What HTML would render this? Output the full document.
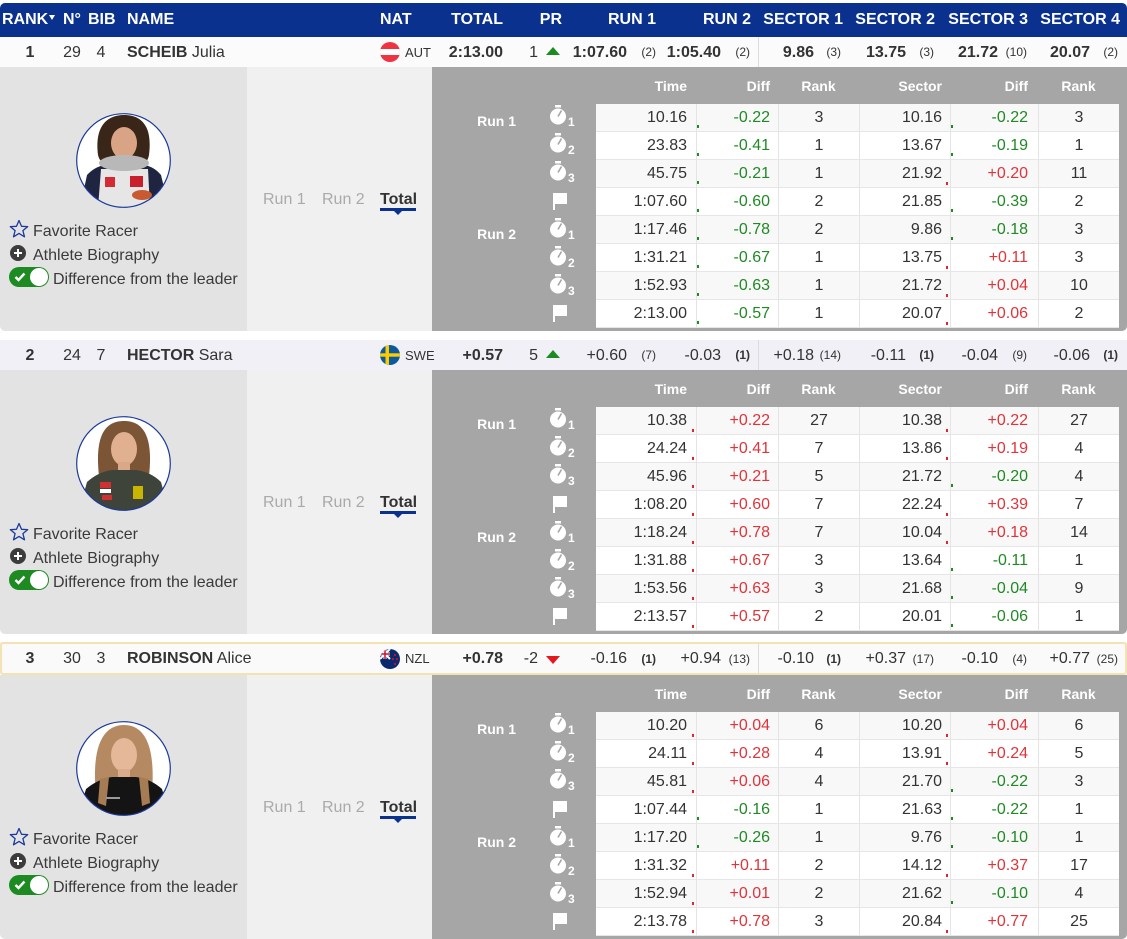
<!DOCTYPE html>
<html><head><meta charset="utf-8">
<style>
*{margin:0;padding:0;box-sizing:border-box}
body{width:1127px;height:936px;overflow:hidden;background:#fff;font-family:"Liberation Sans",Arial,sans-serif;color:#333;position:relative}
.hdr{position:absolute;left:0;top:3px;width:1127px;height:34px;background:#0b318f;border-radius:5px 5px 0 0;color:#fff;font-weight:bold;font-size:16px;line-height:34px}
.hdr span{position:absolute;top:0;white-space:nowrap}
.hdr .st{position:absolute;left:49px;top:12px;width:0;height:0;border-left:3px solid transparent;border-right:3px solid transparent;border-top:5px solid #fff}
.blk{position:absolute;left:0;width:1127px;height:294px}
.row{position:absolute;left:0;top:0;width:1127px;height:30px;line-height:31px;font-size:16px;color:#333}
.row span{position:absolute;top:0;white-space:nowrap}
.b{font-weight:bold}
.row .rk{font-size:12px}
.flag{position:absolute;left:380px;top:50%;margin-top:-10px;width:20px;height:20px}
.up{position:absolute;left:546px;top:50%;margin-top:-5px;width:0;height:0;border-left:7px solid transparent;border-right:7px solid transparent;border-bottom:8px solid #1d8a22}
.dn{position:absolute;left:546px;top:50%;margin-top:-3px;width:0;height:0;border-left:7px solid transparent;border-right:7px solid transparent;border-top:8px solid #e3171d}
.sep{position:absolute;left:758px;top:0;width:1px;height:100%;background:#dcdcdc}
.pl{position:absolute;left:0;top:30px;width:247px;height:264px;background:#e3e3e3;border-bottom-left-radius:5px}
.pm{position:absolute;left:247px;top:30px;width:185px;height:264px;background:#f0f0f0}
.pr{position:absolute;left:432px;top:30px;width:695px;height:264px;background:#a6a6a6;border-bottom-right-radius:5px}
.av{position:absolute;left:76px;top:76px;width:95px;height:95px}
.lt{position:absolute;font-size:16px;line-height:20px;color:#3a3a3a;white-space:nowrap}
.star{position:absolute;left:9px;top:182px;width:20px;height:20px}
.plus{position:absolute;left:10px;top:208px;width:16px;height:16px}
.tog{position:absolute;left:9px;top:230px;width:40px;height:20px;border-radius:10px;background:#1d8b22}
.tog i{position:absolute;right:1px;top:1px;width:18px;height:18px;border-radius:50%;background:#fff}
.tog svg{position:absolute;left:5px;top:4px}
.tab{position:absolute;top:153px;font-size:16px;line-height:20px;color:#aaa;white-space:nowrap}
.tab.on{color:#333;font-weight:bold}
.ul{position:absolute;left:380px;top:171px;width:36px;height:3px;background:#0b318f}
.ut{position:absolute;left:394px;top:174px;width:0;height:0;border-left:4px solid transparent;border-right:4px solid transparent;border-top:4px solid #0b318f}
.gh,.g{position:absolute;left:596px;display:grid;grid-template-columns:100px 82px 81px 91px 88px 81px;width:523px}
.gh{top:35px;height:28px;line-height:28px;color:#fff;font-weight:bold;font-size:14px}
.tb{position:absolute;left:596px;top:67px;width:523px}
.tb .g{position:relative;left:0;height:28px;line-height:27px;font-size:16px;color:#333;border-bottom:1px solid #e6e6e6;background:#fff}
.tb .g:nth-child(odd){background:#f8f8f8}
.tb .g>div{border-left:1px solid #e4e4e4;position:relative}
.tb .g>div:first-child{border-left:none}
.gh>div:nth-child(1),.g>div:nth-child(1){text-align:right;padding-right:9px}
.gh>div:nth-child(2),.g>div:nth-child(2){text-align:right;padding-right:8px}
.gh>div:nth-child(3),.g>div:nth-child(3){text-align:center}
.gh>div:nth-child(4),.g>div:nth-child(4){text-align:right;padding-right:8px}
.gh>div:nth-child(5),.g>div:nth-child(5){text-align:right;padding-right:10px}
.gh>div:nth-child(6),.g>div:nth-child(6){text-align:center}
.gr{color:#1f8a24}
.rd{color:#e0343a}
.mg{position:absolute;left:0;bottom:3px;width:2px;height:3px;background:#1d8b22}
.mr{position:absolute;left:-5px;bottom:2px;width:2px;height:3px;background:#e3262d}
.rl{position:absolute;right:611px;color:#fff;font-weight:bold;font-size:14px;line-height:20px;white-space:nowrap}
.ic{position:absolute;left:549px;width:30px;height:26px}
</style></head><body>

<div class="hdr">
<span style="left:2px">RANK</span><i class="st"></i>
<span style="left:63px">N°</span>
<span style="left:88px">BIB</span>
<span style="left:127px">NAME</span>
<span style="left:380px">NAT</span>
<span style="right:624px">TOTAL</span>
<span style="right:565px">PR</span>
<span style="right:471px">RUN 1</span>
<span style="right:376px">RUN 2</span>
<span style="right:284px">SECTOR 1</span>
<span style="right:192px">SECTOR 2</span>
<span style="right:99px">SECTOR 3</span>
<span style="right:7px">SECTOR 4</span>
</div>

<!-- ================= BLOCK 1 ================= -->
<div class="blk" style="top:37px">
<div class="row" style="background:#fbfbfb">
<span class="b" style="left:15px;width:30px;text-align:center">1</span>
<span style="left:57px;width:30px;text-align:center">29</span>
<span style="left:86px;width:30px;text-align:center">4</span>
<span style="left:127px"><b>SCHEIB</b> Julia</span>
<svg class="flag" viewBox="0 0 20 20"><defs><clipPath id="fa"><circle cx="10" cy="10" r="10"/></clipPath></defs><g clip-path="url(#fa)"><rect width="20" height="20" fill="#ef3340"/><rect y="7" width="20" height="6" fill="#fff"/></g></svg>
<span style="left:405px;font-size:13px">AUT</span>
<span class="b" style="right:624px">2:13.00</span>
<span style="right:589px">1</span><i class="up"></i>
<span class="b" style="right:500px">1:07.60</span><span class="rk" style="right:471px">(2)</span>
<span class="b" style="right:406px">1:05.40</span><span class="rk" style="right:377px">(2)</span>
<i class="sep"></i>
<span class="b" style="right:313px">9.86</span><span class="rk" style="right:286px">(3)</span>
<span class="b" style="right:221px">13.75</span><span class="rk" style="right:193px">(3)</span>
<span class="b" style="right:129px">21.72</span><span class="rk" style="right:100px">(10)</span>
<span class="b" style="right:37px">20.07</span><span class="rk" style="right:9px">(2)</span>
</div>
<div class="pl"></div><div class="pm"></div><div class="pr"></div>
<svg class="av" viewBox="0 0 95 95"><defs><clipPath id="a1"><circle cx="47.5" cy="47.5" r="47"/></clipPath></defs><g clip-path="url(#a1)">
<rect width="95" height="95" fill="#fff"/>
<path d="M22 42 C18 10 34 2 48 2 C63 2 77 10 73 42 C71 52 66 50 64 46 L32 46 C28 50 24 50 22 42Z" fill="#3a2618"/>
<ellipse cx="48" cy="30" rx="13" ry="16" fill="#d9a385"/>
<path d="M4 95 L11 62 Q20 52 35 51 L62 51 Q77 52 85 62 L93 95Z" fill="#1f2540"/>
<path d="M22 95 L25 56 L72 56 L74 95Z" fill="#e6e6e6"/>
<ellipse cx="48" cy="50" rx="25" ry="8" fill="#b8b8b8"/>
<rect x="29" y="64" width="10" height="10" fill="#d42a34"/>
<rect x="54" y="63" width="13" height="11" fill="#c8202c"/>
<ellipse cx="66" cy="82" rx="10" ry="5" fill="#c85a30"/>
</g><circle cx="47.5" cy="47.5" r="46.8" fill="none" stroke="#1a3a9c" stroke-width="1.2"/></svg>
<svg class="star" viewBox="0 0 20 20"><polygon points="10,1.5 12.5,7.3 18.7,7.6 13.9,11.6 15.5,17.8 10,14.4 4.5,17.8 6.1,11.6 1.3,7.6 7.5,7.3" fill="none" stroke="#1a3a9c" stroke-width="1.3" stroke-linejoin="round"/></svg>
<div class="lt" style="left:33px;top:185px">Favorite Racer</div>
<svg class="plus" viewBox="0 0 16 16"><circle cx="8" cy="8" r="8" fill="#3c3c3c"/><path d="M8 4V12M4 8H12" stroke="#fff" stroke-width="2"/></svg>
<div class="lt" style="left:33px;top:209px">Athlete Biography</div>
<div class="tog"><svg width="12" height="12" viewBox="0 0 12 12"><path d="M1.5 6 L4.5 9 L10.5 2.5" stroke="#fff" stroke-width="2.4" fill="none"/></svg><i></i></div>
<div class="lt" style="left:53px;top:233px">Difference from the leader</div>
<div class="tab" style="left:263px">Run 1</div>
<div class="tab" style="left:322px">Run 2</div>
<div class="tab on" style="left:380px">Total</div>
<i class="ul"></i><i class="ut"></i>
<div class="gh"><div>Time</div><div>Diff</div><div>Rank</div><div>Sector</div><div>Diff</div><div>Rank</div></div>
<div class="rl" style="top:74px">Run 1</div>
<div class="rl" style="top:187px">Run 2</div>
<svg class="ic" style="top:67px"><rect x="6" y="1" width="6" height="2.5" fill="#fff"/><circle cx="9" cy="12.5" r="8" fill="#fff"/><path d="M9 12.5 L12.5 6.5" stroke="#a6a6a6" stroke-width="1.6"/><text x="19" y="22" font-family="Liberation Sans" font-weight="bold" font-size="12" fill="#fff">1</text></svg>
<svg class="ic" style="top:95px"><rect x="6" y="1" width="6" height="2.5" fill="#fff"/><circle cx="9" cy="12.5" r="8" fill="#fff"/><path d="M9 12.5 L12.5 6.5" stroke="#a6a6a6" stroke-width="1.6"/><text x="19" y="22" font-family="Liberation Sans" font-weight="bold" font-size="12" fill="#fff">2</text></svg>
<svg class="ic" style="top:123px"><rect x="6" y="1" width="6" height="2.5" fill="#fff"/><circle cx="9" cy="12.5" r="8" fill="#fff"/><path d="M9 12.5 L12.5 6.5" stroke="#a6a6a6" stroke-width="1.6"/><text x="19" y="22" font-family="Liberation Sans" font-weight="bold" font-size="12" fill="#fff">3</text></svg>
<svg class="ic" style="top:152px"><rect x="4" y="4" width="2" height="17" fill="#fff"/><path d="M6 4 H18 V15 H6Z" fill="#fff"/></svg>
<svg class="ic" style="top:180px"><rect x="6" y="1" width="6" height="2.5" fill="#fff"/><circle cx="9" cy="12.5" r="8" fill="#fff"/><path d="M9 12.5 L12.5 6.5" stroke="#a6a6a6" stroke-width="1.6"/><text x="19" y="22" font-family="Liberation Sans" font-weight="bold" font-size="12" fill="#fff">1</text></svg>
<svg class="ic" style="top:208px"><rect x="6" y="1" width="6" height="2.5" fill="#fff"/><circle cx="9" cy="12.5" r="8" fill="#fff"/><path d="M9 12.5 L12.5 6.5" stroke="#a6a6a6" stroke-width="1.6"/><text x="19" y="22" font-family="Liberation Sans" font-weight="bold" font-size="12" fill="#fff">2</text></svg>
<svg class="ic" style="top:236px"><rect x="6" y="1" width="6" height="2.5" fill="#fff"/><circle cx="9" cy="12.5" r="8" fill="#fff"/><path d="M9 12.5 L12.5 6.5" stroke="#a6a6a6" stroke-width="1.6"/><text x="19" y="22" font-family="Liberation Sans" font-weight="bold" font-size="12" fill="#fff">3</text></svg>
<svg class="ic" style="top:264px"><rect x="4" y="4" width="2" height="17" fill="#fff"/><path d="M6 4 H18 V15 H6Z" fill="#fff"/></svg>
<div class="tb">
<div class="g"><div>10.16</div><div class="gr"><i class="mg"></i>-0.22</div><div>3</div><div>10.16</div><div class="gr"><i class="mg"></i>-0.22</div><div>3</div></div>
<div class="g"><div>23.83</div><div class="gr"><i class="mg"></i>-0.41</div><div>1</div><div>13.67</div><div class="gr"><i class="mg"></i>-0.19</div><div>1</div></div>
<div class="g"><div>45.75</div><div class="gr"><i class="mg"></i>-0.21</div><div>1</div><div>21.92</div><div class="rd"><i class="mr"></i>+0.20</div><div>11</div></div>
<div class="g"><div>1:07.60</div><div class="gr"><i class="mg"></i>-0.60</div><div>2</div><div>21.85</div><div class="gr"><i class="mg"></i>-0.39</div><div>2</div></div>
<div class="g"><div>1:17.46</div><div class="gr"><i class="mg"></i>-0.78</div><div>2</div><div>9.86</div><div class="gr"><i class="mg"></i>-0.18</div><div>3</div></div>
<div class="g"><div>1:31.21</div><div class="gr"><i class="mg"></i>-0.67</div><div>1</div><div>13.75</div><div class="rd"><i class="mr"></i>+0.11</div><div>3</div></div>
<div class="g"><div>1:52.93</div><div class="gr"><i class="mg"></i>-0.63</div><div>1</div><div>21.72</div><div class="rd"><i class="mr"></i>+0.04</div><div>10</div></div>
<div class="g"><div>2:13.00</div><div class="gr"><i class="mg"></i>-0.57</div><div>1</div><div>20.07</div><div class="rd"><i class="mr"></i>+0.06</div><div>2</div></div>
</div>
</div>

<!-- ================= BLOCK 2 ================= -->
<div class="blk" style="top:340px">
<div class="row" style="background:#f0f0f6">
<span class="b" style="left:15px;width:30px;text-align:center">2</span>
<span style="left:57px;width:30px;text-align:center">24</span>
<span style="left:86px;width:30px;text-align:center">7</span>
<span style="left:127px"><b>HECTOR</b> Sara</span>
<svg class="flag" viewBox="0 0 20 20"><defs><clipPath id="fs"><circle cx="10" cy="10" r="10"/></clipPath></defs><g clip-path="url(#fs)"><rect width="20" height="20" fill="#0b5a9e"/><rect x="5.5" width="3.5" height="20" fill="#fecc00"/><rect y="8.3" width="20" height="3.4" fill="#fecc00"/></g></svg>
<span style="left:405px;font-size:13px">SWE</span>
<span class="b" style="right:624px">+0.57</span>
<span style="right:589px">5</span><i class="up"></i>
<span style="right:500px">+0.60</span><span class="rk" style="right:471px">(7)</span>
<span style="right:406px">-0.03</span><span class="rk b" style="right:377px">(1)</span>
<i class="sep"></i>
<span style="right:313px">+0.18</span><span class="rk" style="right:286px">(14)</span>
<span style="right:221px">-0.11</span><span class="rk b" style="right:193px">(1)</span>
<span style="right:129px">-0.04</span><span class="rk" style="right:100px">(9)</span>
<span style="right:37px">-0.06</span><span class="rk b" style="right:9px">(1)</span>
</div>
<div class="pl"></div><div class="pm"></div><div class="pr"></div>
<svg class="av" viewBox="0 0 95 95"><defs><clipPath id="a2"><circle cx="47.5" cy="47.5" r="47"/></clipPath></defs><g clip-path="url(#a2)">
<rect width="95" height="95" fill="#fff"/>
<path d="M23 60 C18 15 32 5 48 5 C64 5 78 15 73 60 Z" fill="#7b5536"/>
<ellipse cx="48" cy="33" rx="13" ry="17" fill="#e0b090"/>
<rect x="42" y="46" width="12" height="10" fill="#d9a888"/>
<path d="M3 95 L11 66 Q22 56 36 54 L60 54 Q75 56 85 66 L93 95Z" fill="#3f443b"/>
<rect x="24" y="66" width="11" height="6" fill="#d03030"/>
<rect x="24" y="73" width="11" height="4" fill="#fff"/>
<rect x="26" y="79" width="10" height="5" fill="#d03030"/>
<rect x="57" y="70" width="10" height="13" fill="#c9b500"/>
</g><circle cx="47.5" cy="47.5" r="46.8" fill="none" stroke="#1a3a9c" stroke-width="1.2"/></svg>
<svg class="star" viewBox="0 0 20 20"><polygon points="10,1.5 12.5,7.3 18.7,7.6 13.9,11.6 15.5,17.8 10,14.4 4.5,17.8 6.1,11.6 1.3,7.6 7.5,7.3" fill="none" stroke="#1a3a9c" stroke-width="1.3" stroke-linejoin="round"/></svg>
<div class="lt" style="left:33px;top:185px">Favorite Racer</div>
<svg class="plus" viewBox="0 0 16 16"><circle cx="8" cy="8" r="8" fill="#3c3c3c"/><path d="M8 4V12M4 8H12" stroke="#fff" stroke-width="2"/></svg>
<div class="lt" style="left:33px;top:209px">Athlete Biography</div>
<div class="tog"><svg width="12" height="12" viewBox="0 0 12 12"><path d="M1.5 6 L4.5 9 L10.5 2.5" stroke="#fff" stroke-width="2.4" fill="none"/></svg><i></i></div>
<div class="lt" style="left:53px;top:233px">Difference from the leader</div>
<div class="tab" style="left:263px">Run 1</div>
<div class="tab" style="left:322px">Run 2</div>
<div class="tab on" style="left:380px">Total</div>
<i class="ul"></i><i class="ut"></i>
<div class="gh"><div>Time</div><div>Diff</div><div>Rank</div><div>Sector</div><div>Diff</div><div>Rank</div></div>
<div class="rl" style="top:74px">Run 1</div>
<div class="rl" style="top:187px">Run 2</div>
<svg class="ic" style="top:67px"><rect x="6" y="1" width="6" height="2.5" fill="#fff"/><circle cx="9" cy="12.5" r="8" fill="#fff"/><path d="M9 12.5 L12.5 6.5" stroke="#a6a6a6" stroke-width="1.6"/><text x="19" y="22" font-family="Liberation Sans" font-weight="bold" font-size="12" fill="#fff">1</text></svg>
<svg class="ic" style="top:95px"><rect x="6" y="1" width="6" height="2.5" fill="#fff"/><circle cx="9" cy="12.5" r="8" fill="#fff"/><path d="M9 12.5 L12.5 6.5" stroke="#a6a6a6" stroke-width="1.6"/><text x="19" y="22" font-family="Liberation Sans" font-weight="bold" font-size="12" fill="#fff">2</text></svg>
<svg class="ic" style="top:123px"><rect x="6" y="1" width="6" height="2.5" fill="#fff"/><circle cx="9" cy="12.5" r="8" fill="#fff"/><path d="M9 12.5 L12.5 6.5" stroke="#a6a6a6" stroke-width="1.6"/><text x="19" y="22" font-family="Liberation Sans" font-weight="bold" font-size="12" fill="#fff">3</text></svg>
<svg class="ic" style="top:152px"><rect x="4" y="4" width="2" height="17" fill="#fff"/><path d="M6 4 H18 V15 H6Z" fill="#fff"/></svg>
<svg class="ic" style="top:180px"><rect x="6" y="1" width="6" height="2.5" fill="#fff"/><circle cx="9" cy="12.5" r="8" fill="#fff"/><path d="M9 12.5 L12.5 6.5" stroke="#a6a6a6" stroke-width="1.6"/><text x="19" y="22" font-family="Liberation Sans" font-weight="bold" font-size="12" fill="#fff">1</text></svg>
<svg class="ic" style="top:208px"><rect x="6" y="1" width="6" height="2.5" fill="#fff"/><circle cx="9" cy="12.5" r="8" fill="#fff"/><path d="M9 12.5 L12.5 6.5" stroke="#a6a6a6" stroke-width="1.6"/><text x="19" y="22" font-family="Liberation Sans" font-weight="bold" font-size="12" fill="#fff">2</text></svg>
<svg class="ic" style="top:236px"><rect x="6" y="1" width="6" height="2.5" fill="#fff"/><circle cx="9" cy="12.5" r="8" fill="#fff"/><path d="M9 12.5 L12.5 6.5" stroke="#a6a6a6" stroke-width="1.6"/><text x="19" y="22" font-family="Liberation Sans" font-weight="bold" font-size="12" fill="#fff">3</text></svg>
<svg class="ic" style="top:264px"><rect x="4" y="4" width="2" height="17" fill="#fff"/><path d="M6 4 H18 V15 H6Z" fill="#fff"/></svg>
<div class="tb">
<div class="g"><div>10.38</div><div class="rd"><i class="mr"></i>+0.22</div><div>27</div><div>10.38</div><div class="rd"><i class="mr"></i>+0.22</div><div>27</div></div>
<div class="g"><div>24.24</div><div class="rd"><i class="mr"></i>+0.41</div><div>7</div><div>13.86</div><div class="rd"><i class="mr"></i>+0.19</div><div>4</div></div>
<div class="g"><div>45.96</div><div class="rd"><i class="mr"></i>+0.21</div><div>5</div><div>21.72</div><div class="gr"><i class="mg"></i>-0.20</div><div>4</div></div>
<div class="g"><div>1:08.20</div><div class="rd"><i class="mr"></i>+0.60</div><div>7</div><div>22.24</div><div class="rd"><i class="mr"></i>+0.39</div><div>7</div></div>
<div class="g"><div>1:18.24</div><div class="rd"><i class="mr"></i>+0.78</div><div>7</div><div>10.04</div><div class="rd"><i class="mr"></i>+0.18</div><div>14</div></div>
<div class="g"><div>1:31.88</div><div class="rd"><i class="mr"></i>+0.67</div><div>3</div><div>13.64</div><div class="gr"><i class="mg"></i>-0.11</div><div>1</div></div>
<div class="g"><div>1:53.56</div><div class="rd"><i class="mr"></i>+0.63</div><div>3</div><div>21.68</div><div class="gr"><i class="mg"></i>-0.04</div><div>9</div></div>
<div class="g"><div>2:13.57</div><div class="rd"><i class="mr"></i>+0.57</div><div>2</div><div>20.01</div><div class="gr"><i class="mg"></i>-0.06</div><div>1</div></div>
</div>
</div>

<!-- ================= BLOCK 3 ================= -->
<div class="blk" style="top:645px">
<div class="row" style="top:-3px;height:33px;line-height:34px;background:#fafafa">
<span class="b" style="left:15px;width:30px;text-align:center">3</span>
<span style="left:57px;width:30px;text-align:center">30</span>
<span style="left:86px;width:30px;text-align:center">3</span>
<span style="left:127px"><b>ROBINSON</b> Alice</span>
<svg class="flag" viewBox="0 0 20 20"><defs><clipPath id="fn"><circle cx="10" cy="10" r="10"/></clipPath></defs><g clip-path="url(#fn)"><rect width="20" height="20" fill="#0a2a6e"/><path d="M0 0L10 10M10 0L0 10" stroke="#fff" stroke-width="2"/><path d="M5 0V10M0 5H10" stroke="#fff" stroke-width="3"/><path d="M5 0V10M0 5H10" stroke="#c8102e" stroke-width="1.5"/><circle cx="15" cy="6" r="1.1" fill="#c8102e"/><circle cx="13" cy="10" r="1.1" fill="#c8102e"/><circle cx="17" cy="10" r="1.1" fill="#c8102e"/><circle cx="15" cy="15" r="1.1" fill="#c8102e"/></g></svg>
<span style="left:405px;font-size:13px">NZL</span>
<span class="b" style="right:624px">+0.78</span>
<span style="right:589px">-2</span><i class="dn"></i>
<span style="right:500px">-0.16</span><span class="rk b" style="right:471px">(1)</span>
<span style="right:406px">+0.94</span><span class="rk" style="right:377px">(13)</span>
<i class="sep"></i>
<span style="right:313px">-0.10</span><span class="rk b" style="right:286px">(1)</span>
<span style="right:221px">+0.37</span><span class="rk" style="right:193px">(17)</span>
<span style="right:129px">-0.10</span><span class="rk" style="right:100px">(4)</span>
<span style="right:37px">+0.77</span><span class="rk" style="right:9px">(25)</span>
</div>
<div style="position:absolute;left:0;top:-3px;width:1127px;height:33px;border:2px solid #f5e2b2;border-radius:3px"></div>
<div class="pl"></div><div class="pm"></div><div class="pr"></div>
<svg class="av" viewBox="0 0 95 95"><defs><clipPath id="a3"><circle cx="47.5" cy="47.5" r="47"/></clipPath></defs><g clip-path="url(#a3)">
<rect width="95" height="95" fill="#fff"/>
<path d="M21 82 C13 20 30 4 48 4 C66 4 82 20 75 82 Z" fill="#b58a62"/>
<ellipse cx="48" cy="34" rx="13" ry="17" fill="#e5b89a"/>
<rect x="42" y="48" width="12" height="9" fill="#dcaa8c"/>
<path d="M2 95 L10 68 Q22 58 36 56 L60 56 Q75 58 86 68 L94 95Z" fill="#141414"/>
<path d="M24 58 L33 56 L30 85 L22 82Z" fill="#a67c55"/>
<path d="M63 56 L72 58 L74 82 L66 85Z" fill="#a67c55"/>
<rect x="30" y="76" width="14" height="2" fill="#9a9a9a"/>
</g><circle cx="47.5" cy="47.5" r="46.8" fill="none" stroke="#1a3a9c" stroke-width="1.2"/></svg>
<svg class="star" viewBox="0 0 20 20"><polygon points="10,1.5 12.5,7.3 18.7,7.6 13.9,11.6 15.5,17.8 10,14.4 4.5,17.8 6.1,11.6 1.3,7.6 7.5,7.3" fill="none" stroke="#1a3a9c" stroke-width="1.3" stroke-linejoin="round"/></svg>
<div class="lt" style="left:33px;top:185px">Favorite Racer</div>
<svg class="plus" viewBox="0 0 16 16"><circle cx="8" cy="8" r="8" fill="#3c3c3c"/><path d="M8 4V12M4 8H12" stroke="#fff" stroke-width="2"/></svg>
<div class="lt" style="left:33px;top:209px">Athlete Biography</div>
<div class="tog"><svg width="12" height="12" viewBox="0 0 12 12"><path d="M1.5 6 L4.5 9 L10.5 2.5" stroke="#fff" stroke-width="2.4" fill="none"/></svg><i></i></div>
<div class="lt" style="left:53px;top:233px">Difference from the leader</div>
<div class="tab" style="left:263px">Run 1</div>
<div class="tab" style="left:322px">Run 2</div>
<div class="tab on" style="left:380px">Total</div>
<i class="ul"></i><i class="ut"></i>
<div class="gh"><div>Time</div><div>Diff</div><div>Rank</div><div>Sector</div><div>Diff</div><div>Rank</div></div>
<div class="rl" style="top:74px">Run 1</div>
<div class="rl" style="top:187px">Run 2</div>
<svg class="ic" style="top:67px"><rect x="6" y="1" width="6" height="2.5" fill="#fff"/><circle cx="9" cy="12.5" r="8" fill="#fff"/><path d="M9 12.5 L12.5 6.5" stroke="#a6a6a6" stroke-width="1.6"/><text x="19" y="22" font-family="Liberation Sans" font-weight="bold" font-size="12" fill="#fff">1</text></svg>
<svg class="ic" style="top:95px"><rect x="6" y="1" width="6" height="2.5" fill="#fff"/><circle cx="9" cy="12.5" r="8" fill="#fff"/><path d="M9 12.5 L12.5 6.5" stroke="#a6a6a6" stroke-width="1.6"/><text x="19" y="22" font-family="Liberation Sans" font-weight="bold" font-size="12" fill="#fff">2</text></svg>
<svg class="ic" style="top:123px"><rect x="6" y="1" width="6" height="2.5" fill="#fff"/><circle cx="9" cy="12.5" r="8" fill="#fff"/><path d="M9 12.5 L12.5 6.5" stroke="#a6a6a6" stroke-width="1.6"/><text x="19" y="22" font-family="Liberation Sans" font-weight="bold" font-size="12" fill="#fff">3</text></svg>
<svg class="ic" style="top:152px"><rect x="4" y="4" width="2" height="17" fill="#fff"/><path d="M6 4 H18 V15 H6Z" fill="#fff"/></svg>
<svg class="ic" style="top:180px"><rect x="6" y="1" width="6" height="2.5" fill="#fff"/><circle cx="9" cy="12.5" r="8" fill="#fff"/><path d="M9 12.5 L12.5 6.5" stroke="#a6a6a6" stroke-width="1.6"/><text x="19" y="22" font-family="Liberation Sans" font-weight="bold" font-size="12" fill="#fff">1</text></svg>
<svg class="ic" style="top:208px"><rect x="6" y="1" width="6" height="2.5" fill="#fff"/><circle cx="9" cy="12.5" r="8" fill="#fff"/><path d="M9 12.5 L12.5 6.5" stroke="#a6a6a6" stroke-width="1.6"/><text x="19" y="22" font-family="Liberation Sans" font-weight="bold" font-size="12" fill="#fff">2</text></svg>
<svg class="ic" style="top:236px"><rect x="6" y="1" width="6" height="2.5" fill="#fff"/><circle cx="9" cy="12.5" r="8" fill="#fff"/><path d="M9 12.5 L12.5 6.5" stroke="#a6a6a6" stroke-width="1.6"/><text x="19" y="22" font-family="Liberation Sans" font-weight="bold" font-size="12" fill="#fff">3</text></svg>
<svg class="ic" style="top:264px"><rect x="4" y="4" width="2" height="17" fill="#fff"/><path d="M6 4 H18 V15 H6Z" fill="#fff"/></svg>
<div class="tb">
<div class="g"><div>10.20</div><div class="rd"><i class="mr"></i>+0.04</div><div>6</div><div>10.20</div><div class="rd"><i class="mr"></i>+0.04</div><div>6</div></div>
<div class="g"><div>24.11</div><div class="rd"><i class="mr"></i>+0.28</div><div>4</div><div>13.91</div><div class="rd"><i class="mr"></i>+0.24</div><div>5</div></div>
<div class="g"><div>45.81</div><div class="rd"><i class="mr"></i>+0.06</div><div>4</div><div>21.70</div><div class="gr"><i class="mg"></i>-0.22</div><div>3</div></div>
<div class="g"><div>1:07.44</div><div class="gr"><i class="mg"></i>-0.16</div><div>1</div><div>21.63</div><div class="gr"><i class="mg"></i>-0.22</div><div>1</div></div>
<div class="g"><div>1:17.20</div><div class="gr"><i class="mg"></i>-0.26</div><div>1</div><div>9.76</div><div class="gr"><i class="mg"></i>-0.10</div><div>1</div></div>
<div class="g"><div>1:31.32</div><div class="rd"><i class="mr"></i>+0.11</div><div>2</div><div>14.12</div><div class="rd"><i class="mr"></i>+0.37</div><div>17</div></div>
<div class="g"><div>1:52.94</div><div class="rd"><i class="mr"></i>+0.01</div><div>2</div><div>21.62</div><div class="gr"><i class="mg"></i>-0.10</div><div>4</div></div>
<div class="g"><div>2:13.78</div><div class="rd"><i class="mr"></i>+0.78</div><div>3</div><div>20.84</div><div class="rd"><i class="mr"></i>+0.77</div><div>25</div></div>
</div>
</div>

</body></html>
